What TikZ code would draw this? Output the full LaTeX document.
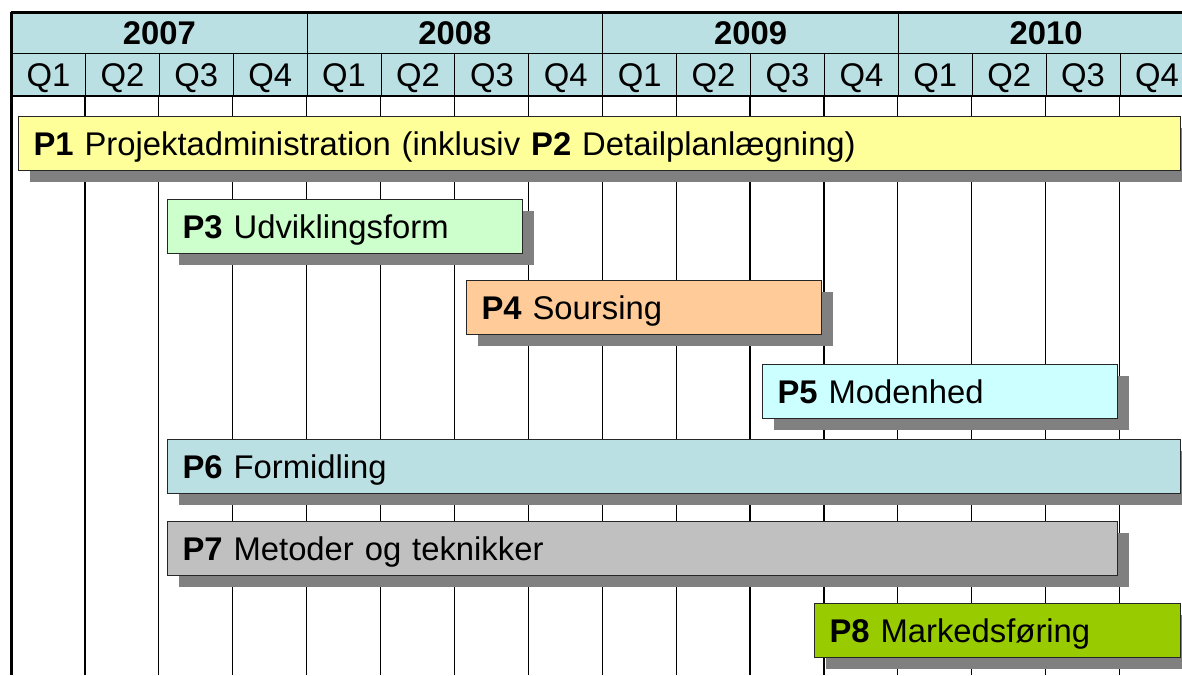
\documentclass[tikz,border=0pt]{standalone}
\usepackage{fontspec}
\setmainfont{Liberation Sans}
\usetikzlibrary{shadows}
\definecolor{headblue}{HTML}{BBE0E3}
\definecolor{p1col}{HTML}{FFFF99}
\definecolor{p3col}{HTML}{CCFFCC}
\definecolor{p4col}{HTML}{FFCC99}
\definecolor{p5col}{HTML}{CCFFFF}
\definecolor{p7col}{HTML}{C0C0C0}
\definecolor{p8col}{HTML}{99CC00}
\definecolor{shadowgray}{HTML}{808080}
\begin{document}
\begin{tikzpicture}[x=0.75pt, y=-0.75pt, font=\fontsize{24.6}{28}\selectfont,
  cell/.style={draw, line width=0.8pt, fill=headblue, inner sep=0pt, anchor=north west, text height=17.6pt, text depth=0pt},
  yearcell/.style={cell, minimum width=221.7pt, minimum height=30.75pt, font=\fontsize{24.6}{28}\selectfont\bfseries},
  qcell/.style={cell, minimum width=55.43pt, minimum height=31.5pt},
  bar/.style={draw=black!85, line width=0.8pt, anchor=north west, minimum height=40.5pt, inner xsep=11.25pt, align=left,
    text height=17.6pt, text depth=0pt,
    drop shadow={shadow xshift=8.5pt, shadow yshift=-8.5pt, fill=shadowgray, opacity=1}},
  gridline/.style={line width=0.9pt},
  border/.style={line width=2.25pt}]
\useasboundingbox (0,0) rectangle (1182,675);
\coordinate (bottom) at (0,675);
% header
\begin{scope}
\foreach \yr [count=\i from 0] in {2007,2008,2009,2010}
  \node[yearcell] (y\yr) at ({11+295.6*\i},12) {\yr};
\foreach \i in {0,...,15}{
  \pgfmathtruncatemacro{\qn}{mod(\i,4)+1}
  \node[qcell] (q\i) at ({11+73.9*\i},53) {Q\qn};
}
\end{scope}
% grid
\begin{scope}
\foreach \i in {1,...,15}
  \draw[gridline] (q\i.south west) -- (q\i.south west |- bottom);
\draw[gridline] (q0.south west) -- (q15.south east);
\end{scope}
% bars
\begin{scope}
\node[bar, fill=p1col, minimum width=871.5pt, text width=849pt] (p1) at (18,116) {\textbf{P1} Projektadministration (inklusiv \textbf{P2} Detailplanlægning)};
\node[bar, fill=p3col, minimum width=266.25pt, text width=243.75pt] (p3) at (167,199) {\textbf{P3} Udviklingsform};
\node[bar, fill=p4col, minimum width=266.25pt, text width=243.75pt] (p4) at (466,280) {\textbf{P4} Soursing};
\node[bar, fill=p5col, minimum width=266.25pt, text width=243.75pt] (p5) at (762,364) {\textbf{P5} Modenhed};
\node[bar, fill=headblue, minimum width=759.75pt, text width=737.25pt] (p6) at (167,439) {\textbf{P6} Formidling};
\node[bar, fill=p7col, minimum width=712.5pt, text width=690pt] (p7) at (167,521) {\textbf{P7} Metoder og teknikker};
\node[bar, fill=p8col, minimum width=274.5pt, text width=252pt] (p8) at (814,603) {\textbf{P8} Markedsføring};
\end{scope}
% frame
\draw[border] (y2007.north west) -- (y2010.north east);
\draw[border] (y2007.north west) -- (y2007.north west |- bottom);
\end{tikzpicture}
\end{document}
